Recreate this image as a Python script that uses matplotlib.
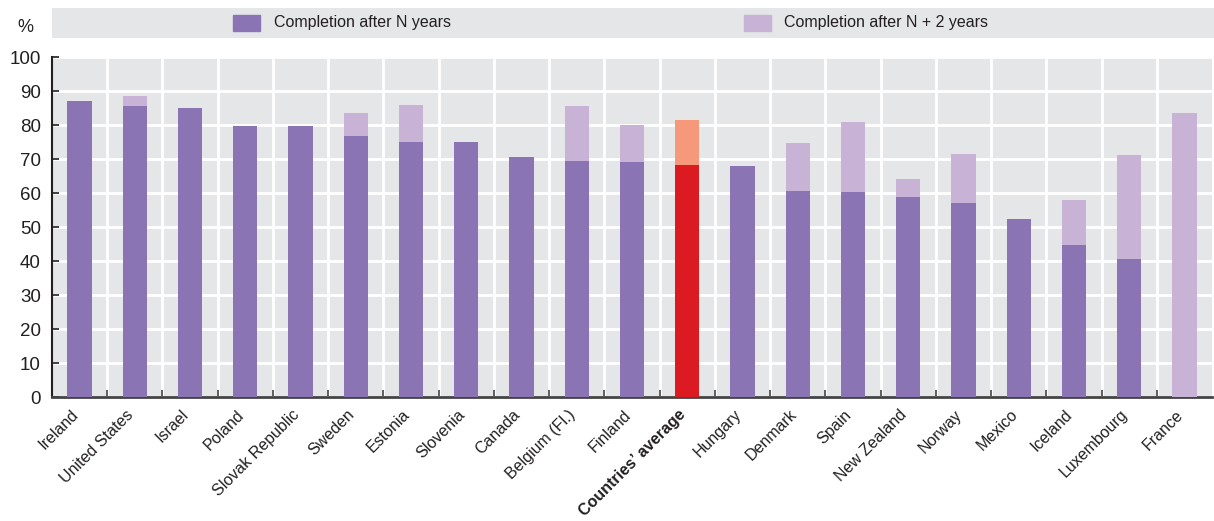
import matplotlib
matplotlib.use("Agg")
import matplotlib.pyplot as plt
from matplotlib.patches import Rectangle
from matplotlib.transforms import ScaledTranslation
import numpy as np

plt.rcParams['font.family'] = ['Liberation Sans Narrow', 'Liberation Sans', 'DejaVu Sans']

# data
countries = ['Ireland', 'United States', 'Israel', 'Poland', 'Slovak Republic', 'Sweden',
             'Estonia', 'Slovenia', 'Canada', 'Belgium (Fl.)', 'Finland', 'Countries\u2019 average',
             'Hungary', 'Denmark', 'Spain', 'New Zealand', 'Norway', 'Mexico', 'Iceland',
             'Luxembourg', 'France']
after_n = [87.0, 85.5, 85.0, 79.7, 79.7, 76.7, 75.0, 75.0, 70.5, 69.5, 69.2, 68.2,
           67.9, 60.5, 60.3, 58.8, 57.0, 52.3, 44.6, 40.5, 0.0]
after_n2 = [87.0, 88.4, 85.0, 79.7, 79.7, 83.5, 86.0, 75.0, 70.5, 85.5, 80.0, 81.4,
            67.9, 74.7, 80.8, 64.0, 71.4, 52.3, 57.8, 71.2, 83.5]
avg_name = 'Countries\u2019 average'

dark = '#8a74b4'
light = '#c8b2d6'
red = '#dc1a22'
salmon = '#f5997a'
bg = '#e5e6e8'
txt = '#231f20'

fig = plt.figure(figsize=(12.14, 5.21), dpi=100)
ax = fig.add_axes([52 / 1214, 1 - 397 / 521, 1160 / 1214, 340 / 521])
ax.set_facecolor(bg)

x = np.arange(len(countries))
extra = [max(b - a, 0) for a, b in zip(after_n, after_n2)]
c1 = [red if c == avg_name else dark for c in countries]
c2 = [salmon if c == avg_name else light for c in countries]
ax.bar(x, after_n, width=0.44, color=c1, zorder=3)
ax.bar(x, extra, bottom=after_n, width=0.44, color=c2, zorder=3)

ax.set_xlim(-0.5, len(countries) - 0.5)
ax.set_ylim(0, 100)
ax.set_yticks(np.arange(0, 101, 10))
ax.set_xticks(x)
ax.set_xticks(np.arange(0.5, len(countries) - 1, 1), minor=True)
ax.grid(axis='y', color='white', lw=2, zorder=1)
ax.grid(axis='x', which='minor', color='white', lw=2, zorder=1)
ax.tick_params(axis='x', which='major', length=0, pad=5)
ax.tick_params(axis='x', which='minor', direction='in', length=5, color='#444444', width=1.2)
ax.tick_params(axis='y', direction='in', length=5, color=txt, width=1.2, labelsize=13.5,
               labelcolor=txt, pad=8)
ax.set_xticklabels(countries, rotation=45, ha='right', va='top', rotation_mode='anchor',
                   fontsize=11.5, color=txt)
shift = ScaledTranslation(-9 / 100, -3 / 100, fig.dpi_scale_trans)
for lab in ax.get_xticklabels():
    lab.set_transform(lab.get_transform() + shift)
    if lab.get_text() == avg_name:
        lab.set_fontweight('bold')
for s in ['top', 'right']:
    ax.spines[s].set_visible(False)
ax.spines['left'].set_color(txt)
ax.spines['left'].set_linewidth(1.5)
ax.spines['bottom'].set_color('#444444')
ax.spines['bottom'].set_linewidth(2)

fig.text(25 / 1214, 1 - 28 / 521, '%', fontsize=13, color=txt, ha='center', va='center')

# legend band
lg = fig.add_axes([52 / 1214, 1 - 38 / 521, 1162 / 1214, 30 / 521])
lg.set_xlim(0, 1162)
lg.set_ylim(0, 30)
lg.axis('off')
lg.add_patch(Rectangle((0, 0), 1162, 30, color=bg))
lg.add_patch(Rectangle((181, 7), 27, 16, color=dark))
lg.text(222, 15, 'Completion after N years', fontsize=11.5, color=txt, va='center')
lg.add_patch(Rectangle((692, 7), 27, 16, color=light))
lg.text(732, 15, 'Completion after N + 2 years', fontsize=11.5, color=txt, va='center')

fig.savefig('out.png', dpi=100)
